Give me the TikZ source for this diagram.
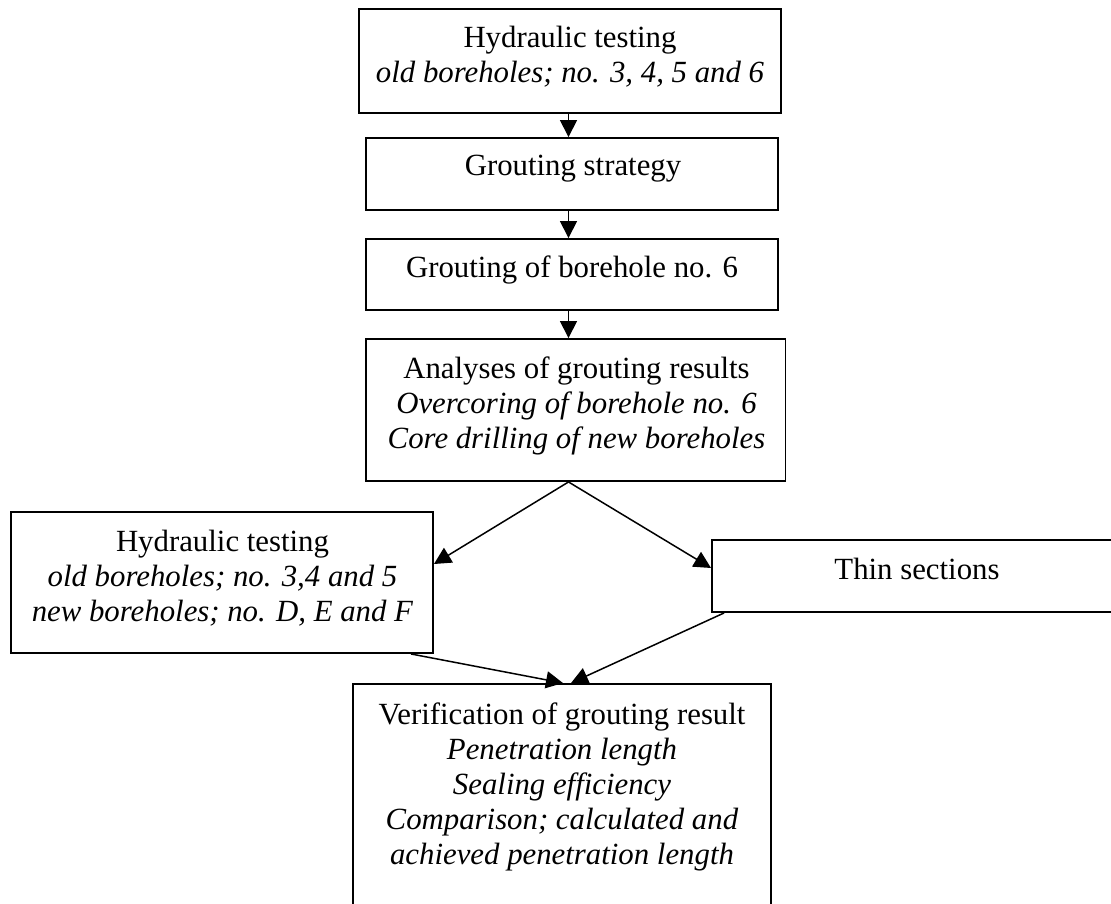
\documentclass[tikz,border=0pt]{standalone}
\usepackage{fontspec}
\setmainfont{Liberation Serif}
\usetikzlibrary{arrows.meta}
\begin{document}
\begin{tikzpicture}[x=1pt,y=-1pt,
  box/.style={draw, line width=1.9pt, rectangle, inner sep=0pt},
  txt/.style={align=center, inner sep=0pt, anchor=north, font=\fontsize{30.8}{35}\selectfont},
  arr/.style={line width=1.5pt, -{Triangle[length=17pt,width=17pt]}}]
\useasboundingbox[fill=white] (0,0) rectangle (1111,903);
% boxes
\node[box, minimum width=422pt, minimum height=104pt] (b1) at (570,61) {};
\node[box, minimum width=412pt, minimum height=72pt] (b2) at (572,174) {};
\node[box, minimum width=412pt, minimum height=71pt] (b3) at (572,274.5) {};
\node[box, minimum width=419.5pt, minimum height=142pt] (b4) at (575.75,410) {};
\node[box, minimum width=422pt, minimum height=141pt] (b5) at (222,582.5) {};
\node[box, minimum width=413pt, minimum height=72pt] (b6) at (918.5,576) {};
\node[box, minimum width=418pt, minimum height=236pt] (b7) at (562,802) {};
% texts
\node[txt] (t1) at (570,26) {Hydraulic testing\\\textit{old boreholes; no. 3, 4, 5 and 6}};
\node[txt] (t2) at (573,155) {Grouting strategy};
\node[txt] (t3) at (572,256) {Grouting of borehole no. 6};
\node[txt] (t4) at (576.5,357) {Analyses of grouting results\\\textit{Overcoring of borehole no. 6}\\\textit{Core drilling of new boreholes}};
\node[txt] (t5) at (222.5,530) {Hydraulic testing\\\textit{old boreholes; no. 3,4 and 5}\\\textit{new boreholes; no. D, E and F}};
\node[txt] (t6) at (917,557.5) {Thin sections};
\node[txt] (t7) at (562,702.5) {Verification of grouting result\\\textit{Penetration length}\\\textit{Sealing efficiency}\\\textit{Comparison; calculated and}\\\textit{achieved penetration length}};
% connectors
\coordinate (cx) at (568.5,0);
\draw[arr] (b1.south -| cx) -- (b2.north -| cx);
\draw[arr] (b2.south -| cx) -- (b3.north -| cx);
\draw[arr] (b3.south -| cx) -- (b4.north -| cx);
\draw[arr] (b4.south -| cx) -- ([yshift=18.5pt]b5.east);
\draw[arr] (b4.south -| cx) -- ([yshift=8pt]b6.west);
\draw[arr] ([xshift=-23pt]b5.south east) -- ([xshift=1pt]b7.north);
\draw[arr] ([xshift=13pt]b6.south west) -- ([xshift=9pt]b7.north);
\end{tikzpicture}
\end{document}
